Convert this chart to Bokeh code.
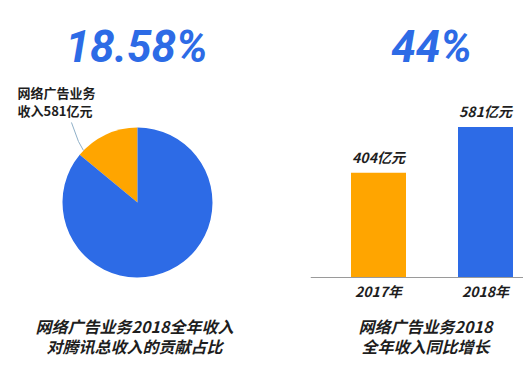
import math
from bokeh.plotting import figure
from bokeh.layouts import row
from bokeh.models import Range1d, Label, Span, ColumnDataSource
from bokeh.core.properties import value
from bokeh.embed import file_html
from bokeh.resources import INLINE

# ---- data ----
pie_labels = ["网络广告业务", "其他"]
pie_shares = [14.0, 86.0]          # share of the pie as drawn (%)
pie_colors = ["#FFA500", "#2D6BE6"]
share_title = "18.58%"
pie_note = ["网络广告业务", "收入581亿元"]
left_caption = ["网络广告业务2018全年收入", "对腾讯总收入的贡献占比"]

years = ["2017年", "2018年"]
revenue = [404, 581]               # 亿元
bar_labels = ["404亿元", "581亿元"]
bar_colors = ["#FFA500", "#2D6BE6"]
growth_title = "44%"
right_caption = ["网络广告业务2018", "全年收入同比增长"]

CJK = "Noto Sans CJK SC"
BLUE_TXT = "#2D6BE6"
DARK = "#1e1e1e"

# ---- left panel: pie ----
W1, H = 310, 381
p1 = figure(width=W1, height=H, x_range=Range1d(0, W1), y_range=Range1d(0, H),
            x_axis_type=None, y_axis_type=None, toolbar_location=None,
            min_border=0, output_backend="svg", outline_line_color=None)
p1.grid.visible = False

cx, cy, r = 137, 179, 75
total = sum(pie_shares)
starts, ends = [], []
a = math.pi / 2
for s in pie_shares:
    starts.append(a)
    a += 2 * math.pi * s / total
    ends.append(a)
src = ColumnDataSource(dict(start=starts, end=ends, color=pie_colors, label=pie_labels))
p1.wedge(x=cx, y=cy, radius=r, start_angle="start", end_angle="end",
         fill_color="color", line_color=None, source=src, direction="anticlock")

# leader line to the orange slice edge
ang = math.radians(135)
ex, ey = cx + r * math.cos(ang), cy + r * math.sin(ang)
p1.line(x=[ex - 1, ex - 6, ex - 13], y=[ey - 1, ey + 8, ey + 27],
        line_color="#8FB0C8", line_width=1)

p1.add_layout(Label(x=136, y=335, x_units="screen", y_units="screen", text=share_title,
                    text_font="Roboto", text_font_size="44px",
                    text_font_style="bold italic", text_color=BLUE_TXT,
                    text_align="center", text_baseline="middle"))
for i, t in enumerate(pie_note):
    p1.add_layout(Label(x=17, y=289 - 18 * i, x_units="screen", y_units="screen", text=t,
                        text_font=CJK, text_font_size="13px",
                        text_font_style="bold", text_color=DARK,
                        text_align="left", text_baseline="middle"))
for i, t in enumerate(left_caption):
    p1.add_layout(Label(x=134, y=56 - 20 * i, x_units="screen", y_units="screen", text=t,
                        text_font=CJK, text_font_size="16px",
                        text_font_style="bold italic", text_color=DARK,
                        text_align="center", text_baseline="middle"))

# ---- right panel: bars ----
W2 = 213
unit = 107.0          # px between bar centres
px_per = 0.259        # px per 亿元
x0 = -68 / unit
y0 = -104 / px_per
p2 = figure(width=W2, height=H, x_range=Range1d(x0, x0 + W2 / unit),
            y_range=Range1d(y0, y0 + H / px_per),
            x_axis_type=None, y_axis_type=None, toolbar_location=None,
            min_border=0, output_backend="svg", outline_line_color=None)
p2.grid.visible = False

idx = list(range(len(years)))
bsrc = ColumnDataSource(dict(x=idx, top=revenue, color=bar_colors, lab=bar_labels, yr=years))
p2.vbar(x="x", top="top", bottom=0, width=55 / unit, fill_color="color",
        line_color=None, source=bsrc)
p2.add_layout(Span(location=0, dimension="width", line_color="#9a9a9a", line_width=1))
p2.text(x="x", y="top", text="lab", source=bsrc, text_font=value(CJK),
        text_font_size="14px", text_font_style="bold italic", text_color=DARK,
        text_align="center", text_baseline="bottom", y_offset=-6)
p2.text(x="x", y=0, text="yr", source=bsrc, text_font=value(CJK),
        text_font_size="14px", text_font_style="bold italic", text_color=DARK,
        text_align="center", text_baseline="middle", y_offset=13)

p2.add_layout(Label(x=121, y=335, x_units="screen", y_units="screen", text=growth_title,
                    text_font="Roboto", text_font_size="44px",
                    text_font_style="bold italic", text_color=BLUE_TXT,
                    text_align="center", text_baseline="middle"))
for i, t in enumerate(right_caption):
    p2.add_layout(Label(x=115, y=56 - 20 * i, x_units="screen", y_units="screen", text=t,
                        text_font=CJK, text_font_size="16px",
                        text_font_style="bold italic", text_color=DARK,
                        text_align="center", text_baseline="middle"))

layout = row(p1, p2)
open("out.html", "w").write(file_html(layout, INLINE))
